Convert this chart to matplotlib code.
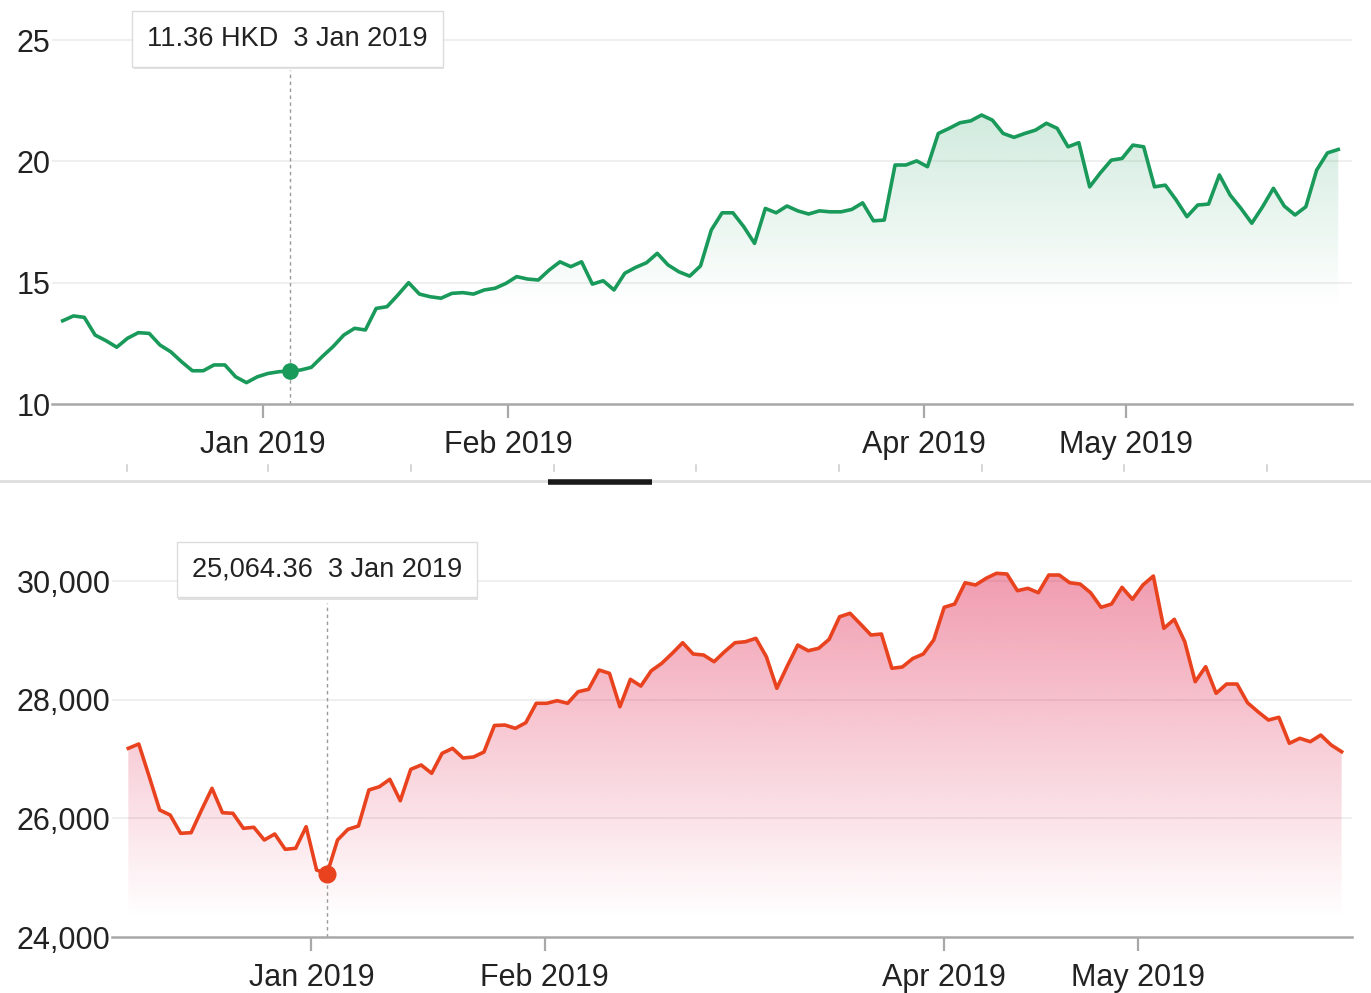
import numpy as np
import matplotlib
matplotlib.use("Agg")
import matplotlib.pyplot as plt
import matplotlib.colors as mcolors
import matplotlib.patheffects as pe
from matplotlib.patches import Polygon
from matplotlib.lines import Line2D
from matplotlib.transforms import blended_transform_factory

plt.rcParams['font.family'] = ['Liberation Sans', 'DejaVu Sans']

# stock price (HKD), one value per trading day
stock_vals = [13.43, 13.63, 13.57, 12.84, 12.61, 12.34, 12.71, 12.94, 12.91, 12.43,
              12.15, 11.74, 11.37, 11.37, 11.61, 11.61, 11.12, 10.88, 11.12, 11.26,
              11.33, 11.36, 11.40, 11.51, 11.95, 12.36, 12.84, 13.12, 13.05, 13.94,
              14.01, 14.49, 15.00, 14.53, 14.42, 14.36, 14.56, 14.59, 14.53, 14.70,
              14.77, 14.97, 15.25, 15.15, 15.11, 15.52, 15.86, 15.66, 15.86, 14.94,
              15.08, 14.70, 15.39, 15.63, 15.82, 16.21, 15.73, 15.45, 15.27, 15.69,
              17.17, 17.88, 17.88, 17.31, 16.62, 18.06, 17.88, 18.16, 17.96, 17.83,
              17.96, 17.92, 17.92, 18.02, 18.29, 17.55, 17.58, 19.85, 19.85, 20.02,
              19.78, 21.15, 21.36, 21.59, 21.67, 21.91, 21.70, 21.15, 20.99, 21.15,
              21.29, 21.57, 21.36, 20.60, 20.77, 18.95, 19.53, 20.05, 20.12, 20.67,
              20.60, 18.95, 19.02, 18.41, 17.72, 18.20, 18.24, 19.44, 18.61, 18.06,
              17.45, 18.13, 18.89, 18.16, 17.79, 18.13, 19.64, 20.35, 20.49]
stock_hl = 21
stock_ticks = [18.5, 41.2, 79.7, 98.4]

# index level, one value per trading day
index_vals = [27180, 27253, 26702, 26140, 26056, 25748, 25758, 26140, 26506, 26095,
              26085, 25832, 25849, 25635, 25736, 25478, 25495, 25859, 25129, 25064,
              25635, 25815, 25871, 26478, 26533, 26658, 26297, 26826, 26899, 26759,
              27096, 27180, 27017, 27034, 27118, 27565, 27573, 27517, 27612, 27939,
              27939, 27983, 27939, 28134, 28175, 28500, 28444, 27881, 28343, 28230,
              28488, 28613, 28781, 28960, 28770, 28753, 28640, 28808, 28960, 28977,
              29034, 28724, 28192, 28567, 28921, 28825, 28866, 29017, 29398, 29456,
              29275, 29090, 29107, 28529, 28551, 28694, 28770, 29006, 29557, 29612,
              29971, 29933, 30045, 30130, 30118, 29837, 29877, 29803, 30101, 30101,
              29971, 29949, 29803, 29557, 29612, 29894, 29692, 29933, 30084, 29203,
              29354, 28977, 28303, 28556, 28107, 28264, 28264, 27949, 27797, 27657,
              27703, 27265, 27349, 27292, 27404, 27236, 27123]
index_hl = 19
index_ticks = [17.5, 39.8, 78.0, 96.5]

month_labels = ['Jan 2019', 'Feb 2019', 'Apr 2019', 'May 2019']
stock_yticks = [10, 15, 20, 25]
index_yticks = [24000, 26000, 28000, 30000]
stock_tip = '11.36 HKD  3 Jan 2019'
index_tip = '25,064.36  3 Jan 2019'

W, H = 1371, 993


def fig_rect(l, t, r, b):
    return [l / W, 1 - b / H, (r - l) / W, (b - t) / H]


def gradient_fill(ax, x, y, color, a_top, y0, y_base):
    rgb = mcolors.to_rgb(color)
    z = np.empty((200, 1, 4))
    z[:, :, :3] = rgb
    z[:, 0, 3] = np.linspace(0, a_top, 200)
    im = ax.imshow(z, aspect='auto', origin='lower', zorder=1,
                   extent=[x.min(), x.max(), y0, max(y)])
    verts = [(x[0], y_base)] + list(zip(x, y)) + [(x[-1], y_base)]
    clip = Polygon(verts, closed=True, fc='none', ec='none')
    ax.add_patch(clip)
    im.set_clip_path(clip)
    # below y0 nothing visible anyway


def style_axes(ax, yticks, fmt):
    for s in ['top', 'right', 'left']:
        ax.spines[s].set_visible(False)
    ax.spines['bottom'].set_color('#a8a8a8')
    ax.spines['bottom'].set_linewidth(1.8)
    ax.set_yticks(yticks)
    ax.set_yticklabels([fmt(v) for v in yticks])
    ax.tick_params(axis='y', length=0, pad=1, labelsize=22, labelcolor='#222222')
    ax.tick_params(axis='x', length=10, width=1.6, color='#a8a8a8', pad=9,
                   labelsize=22, labelcolor='#222222')
    for v in yticks[1:]:
        ax.axhline(v, color='#efefef', lw=1.5, zorder=0)


def tooltip(ax, x, yfrac, text, xoff=0):
    tr = blended_transform_factory(ax.transData, ax.transAxes)
    t = ax.text(x + xoff, yfrac, text, transform=tr, ha='center', va='center',
                fontsize=19.5, color='#222222', zorder=10,
                bbox=dict(boxstyle='square,pad=0.55', fc='white', ec='#dcdcdc', lw=1))
    t.get_bbox_patch().set_path_effects([
        pe.SimplePatchShadow(offset=(1, -2), shadow_rgbFace='#888888', alpha=0.25),
        pe.Normal()])


fig = plt.figure(figsize=(W / 100, H / 100), dpi=100)

# top panel: stock
ax1 = fig.add_axes(fig_rect(52, 25, 1352, 404))
x1 = np.arange(len(stock_vals))
y1 = np.array(stock_vals)
gradient_fill(ax1, x1, y1, '#1a9a5a', 0.2, 14.0, 10)
ax1.plot(x1, y1, color='#1a9a5a', lw=2.6, zorder=3, solid_joinstyle='round')
ax1.plot(stock_hl, y1[stock_hl], 'o', color='#1a9a5a', ms=11, zorder=4)
ax1.axvline(stock_hl, ymin=0, ymax=0.88, color='#9a9a9a', lw=1, ls=(0, (2.5, 2.5)), zorder=2)
ax1.set_xlim(-0.99, 119.27)
ax1.set_ylim(10, 25.62)
style_axes(ax1, stock_yticks, lambda v: f'{v}')
ax1.set_xticks(stock_ticks)
ax1.set_xticklabels(month_labels)
tooltip(ax1, stock_hl, 0.964, stock_tip, xoff=-0.2)

# bottom panel: index
ax2 = fig.add_axes(fig_rect(112, 530, 1352, 937))
x2 = np.arange(len(index_vals))
y2 = np.array(index_vals)
gradient_fill(ax2, x2, y2, '#e0234f', 0.45, 24300, 24000)
ax2.plot(x2, y2, color='#e8431e', lw=2.6, zorder=3, solid_joinstyle='round')
ax2.plot(index_hl, y2[index_hl], 'o', color='#e8431e', ms=12, zorder=4)
ax2.axvline(index_hl, ymin=0, ymax=0.82, color='#9a9a9a', lw=1, ls=(0, (2.5, 2.5)), zorder=2)
ax2.set_xlim(-1.56, 116.99)
ax2.set_ylim(24000, 30860)
style_axes(ax2, index_yticks, lambda v: f'{v:,}')
ax2.set_xticks(index_ticks)
ax2.set_xticklabels(month_labels)
tooltip(ax2, index_hl, 0.903, index_tip)

# navigator strip between the panels
fig.add_artist(Line2D([0, 1], [1 - 481 / H] * 2, color='#dedede', lw=2))
fig.add_artist(Line2D([548 / W, 652 / W], [1 - 482 / H] * 2, color='#1a1a1a', lw=4,
                      solid_capstyle='butt'))
for px in [127, 268, 411, 554, 696, 839, 982, 1124, 1267]:
    fig.add_artist(Line2D([px / W] * 2, [1 - 465 / H, 1 - 471 / H], color='#d0d0d0', lw=1.2))

fig.savefig('out.png', dpi=100, facecolor='white')
